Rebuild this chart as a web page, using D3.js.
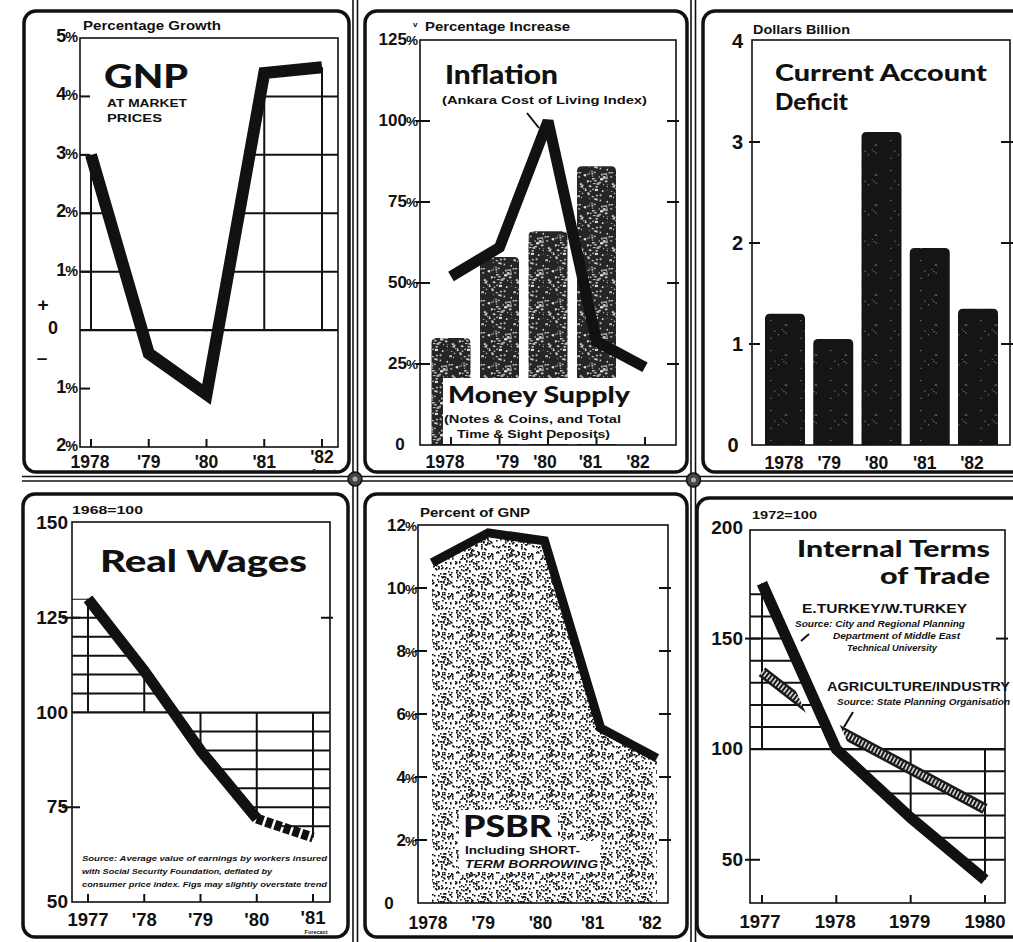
<!DOCTYPE html>
<html><head><meta charset="utf-8">
<script src="https://cdn.jsdelivr.net/npm/d3@7"></script>
<style>body{margin:0;background:#fff}svg{display:block}</style>
</head><body>
<svg id="c" width="1013" height="942"></svg>
<script>
// ---------------- DATA ----------------
const gnpYears = ["1978", "'79", "'80", "'81", "'82"];
const gnpValues = [3.0, -0.4, -1.1, 4.4, 4.5];
const gnpTicks = [5, 4, 3, 2, 1, 0, -1, -2];
const gnpTickLabels = ["5%", "4%", "3%", "2%", "1%", "0", "1%", "2%"];

const inflYears = ["1978", "'79", "'80", "'81", "'82"];
const inflationValues = [52, 61, 100, 32, 24];
const moneySupplyValues = [33, 58, 66, 86, null];
const inflTicks = [125, 100, 75, 50, 25, 0];
const inflTickLabels = ["125%", "100%", "75%", "50%", "25%", "0"];

const cadYears = ["1978", "'79", "'80", "'81", "'82"];
const cadValues = [1.3, 1.05, 3.1, 1.95, 1.35];
const cadTicks = [4, 3, 2, 1, 0];
const cadTickLabels = ["4", "3", "2", "1", "0"];

const wageYears = ["1977", "'78", "'79", "'80", "'81"];
const wageValues = [130, 111, 90, 72, 67];
const wageTicks = [150, 125, 100, 75, 50];
const wageTickLabels = ["150", "125", "100", "75", "50"];

const psbrYears = ["1978", "'79", "'80", "'81", "'82"];
const psbrValues = [10.8, 11.75, 11.5, 5.55, 4.6];
const psbrTicks = [12, 10, 8, 6, 4, 2, 0];
const psbrTickLabels = ["12%", "10%", "8%", "6%", "4%", "2%", "0"];

const totYears = ["1977", "1978", "1979", "1980"];
const eastWestValues = [175, 100, 69, 41];
const agriIndustryValues = [135, 109, 91, 73];
const totTicks = [200, 150, 100, 50];
const totTickLabels = ["200", "150", "100", "50"];

// ---------------- SETUP ----------------
const FT = "Lato, 'DejaVu Sans', sans-serif";
const FL = "'Liberation Sans Narrow', 'Liberation Sans', Arial, sans-serif";
const INK = "#111";
const svg = d3.select("#c");
svg.append("rect").attr("width", 1013).attr("height", 942).attr("fill", "#fff");
const defs = svg.append("defs");

// deterministic hash for print-like texture placement (style only)
const h = (i, k) => { const s = Math.sin(i * 12.9898 + k * 78.233) * 43758.5453; return s - Math.floor(s); };

// textures
{
  const p1 = defs.append("pattern").attr("id", "speckMid").attr("patternUnits", "userSpaceOnUse")
    .attr("width", 32).attr("height", 32);
  p1.append("rect").attr("width", 32).attr("height", 32).attr("fill", "#262626");
  d3.range(70).forEach(i => p1.append("rect")
    .attr("x", h(i, 1) * 32).attr("y", h(i, 2) * 32)
    .attr("width", 0.8 + h(i, 3) * 2.2).attr("height", 0.8 + h(i, 4) * 1.2)
    .attr("fill", "#f4f4f4").attr("opacity", 0.8));
  const p2 = defs.append("pattern").attr("id", "speckDark").attr("patternUnits", "userSpaceOnUse")
    .attr("width", 30).attr("height", 30);
  p2.append("rect").attr("width", 30).attr("height", 30).attr("fill", "#151515");
  d3.range(9).forEach(i => p2.append("rect")
    .attr("x", h(i, 5) * 30).attr("y", h(i, 6) * 30)
    .attr("width", 1.2).attr("height", 1).attr("fill", "#8a8a8a"));
  const p3 = defs.append("pattern").attr("id", "stipple").attr("patternUnits", "userSpaceOnUse")
    .attr("width", 40).attr("height", 40);
  d3.range(190).forEach(i => p3.append("rect")
    .attr("x", Math.round(h(i, 7) * 39)).attr("y", Math.round(h(i, 8) * 39))
    .attr("width", 1.6).attr("height", 1.6).attr("fill", "#111"));
}

function txt(x, y, s, size, o = {}) {
  const t = svg.append("text").attr("x", x).attr("y", y).text(s)
    .attr("font-family", o.family || FL).attr("font-size", size)
    .attr("font-weight", o.weight || "bold").attr("fill", INK)
    .attr("text-anchor", o.anchor || "start");
  if (o.italic) t.attr("font-style", "italic");
  if (o.len) t.attr("textLength", o.len).attr("lengthAdjust", "spacingAndGlyphs");
  return t;
}
function frame(x, y, w, h) {
  svg.append("rect").attr("x", x).attr("y", y).attr("width", w).attr("height", h)
    .attr("rx", 12).attr("fill", "none").attr("stroke", INK).attr("stroke-width", 3.5);
}
function plotBox(L, T, R, B) {
  svg.append("rect").attr("x", L).attr("y", T).attr("width", R - L).attr("height", B - T)
    .attr("fill", "none").attr("stroke", INK).attr("stroke-width", 1.6);
}
function yLabels(y, ticks, labels, x, size, dy, centerZeroX) {
  ticks.forEach((t, i) => {
    const lab = labels[i];
    if (lab === "0" && centerZeroX) {
      txt(centerZeroX, y(t) + dy, "0", size, { anchor: "middle" });
      return;
    }
    const el = svg.append("text").attr("x", x).attr("y", y(t) + dy).attr("text-anchor", "end")
      .attr("font-family", FL).attr("font-weight", "bold").attr("font-size", size).attr("fill", INK);
    if (lab.endsWith("%")) {
      el.append("tspan").text(lab.slice(0, -1));
      el.append("tspan").attr("font-size", size * 0.8).attr("dx", -1).text("%");
    } else el.text(lab);
  });
}
function leftTicks(y, ticks, L, a, b) {
  ticks.forEach(t => svg.append("line").attr("x1", L - a).attr("x2", L + b)
    .attr("y1", y(t)).attr("y2", y(t)).attr("stroke", INK).attr("stroke-width", 2));
}
function rightTicks(y, ticks, R) {
  ticks.forEach(t => svg.append("line").attr("x1", R - 9).attr("x2", R + 3)
    .attr("y1", y(t)).attr("y2", y(t)).attr("stroke", INK).attr("stroke-width", 2));
}
function bottomTicks(x, cats, B) {
  cats.forEach(c => svg.append("line").attr("x1", x(c)).attr("x2", x(c))
    .attr("y1", B - 8).attr("y2", B).attr("stroke", INK).attr("stroke-width", 2));
}
function xLabels(x, cats, yb, size, offs, dys) {
  cats.forEach((c, i) => txt(x(c) + (offs ? offs[i] : 0), yb + (dys ? dys[i] : 0), c, size, { anchor: "middle" }));
}
function areaClip(id, pts, L, R, base, y) {
  const ext = [[L, pts[0][1]], ...pts, [R, pts[pts.length - 1][1]]];
  defs.append("clipPath").attr("id", id).append("path")
    .attr("d", d3.area().x(d => d[0]).y0(y(base)).y1(d => y(d[1]))(ext));
}
function grid(g, hVals, xs, L, R, y, T, B) {
  hVals.forEach(v => g.append("line").attr("x1", L).attr("x2", R).attr("y1", y(v)).attr("y2", y(v))
    .attr("stroke", INK).attr("stroke-width", 2));
  xs.forEach(px => g.append("line").attr("x1", px).attr("x2", px).attr("y1", T).attr("y2", B)
    .attr("stroke", INK).attr("stroke-width", 2));
}
function roundTopBar(x0, w, yTop, yBot, r) {
  return `M${x0},${yBot}V${yTop + r}Q${x0},${yTop} ${x0 + r},${yTop}H${x0 + w - r}Q${x0 + w},${yTop} ${x0 + w},${yTop + r}V${yBot}Z`;
}
const lineGen = d3.line().x(d => d[0]).y(d => d[1]);

// ---------------- SEPARATORS & FRAMES ----------------
[[353, 357.5], [691, 695.5]].forEach(([a, b]) => {
  [a, b].forEach(xx => svg.append("line").attr("x1", xx).attr("x2", xx).attr("y1", 0).attr("y2", 942)
    .attr("stroke", INK).attr("stroke-width", 1.6));
});
[476.5, 481].forEach(yy => svg.append("line").attr("x1", 22).attr("x2", 1013).attr("y1", yy).attr("y2", yy)
  .attr("stroke", INK).attr("stroke-width", 1.6));
[[355, 479], [693.5, 480]].forEach(([cx, cy]) => {
  svg.append("circle").attr("cx", cx).attr("cy", cy).attr("r", 7).attr("fill", "#444").attr("stroke", INK).attr("stroke-width", 1.5);
  svg.append("circle").attr("cx", cx).attr("cy", cy).attr("r", 2.5).attr("fill", "#aaa");
});
frame(24, 11, 325, 461);
frame(365, 11, 322, 461);
frame(703, 11, 330, 461);
frame(23, 494, 325, 443);
frame(365, 494, 322, 443);
frame(697, 498, 330, 439);

// ---------------- PANEL 1: GNP ----------------
{
  const L = 80, R = 338, T = 38, B = 447;
  const x = d3.scalePoint().domain(gnpYears).range([91, 322]);
  const y = d3.scaleLinear().domain([-2, 5]).range([B, T]);
  const pts = gnpValues.map((v, i) => [x(gnpYears[i]), v]);
  areaClip("gnpClip", pts, L, R, 0, y);
  defs.append("clipPath").attr("id", "gnpPos").append("rect")
    .attr("x", L).attr("y", T).attr("width", R - L).attr("height", y(0) - T + 1);
  const g = svg.append("g").attr("clip-path", "url(#gnpPos)").append("g").attr("clip-path", "url(#gnpClip)");
  grid(g, [1, 2, 3, 4], gnpYears.map(x), L, R, y, T, B);
  svg.append("line").attr("x1", L).attr("x2", R).attr("y1", y(0)).attr("y2", y(0)).attr("stroke", INK).attr("stroke-width", 2.2);
  plotBox(L, T, R, B);
  leftTicks(y, [4, 3, 2, 1, -1], L, 0, 10);
  bottomTicks(x, gnpYears, B);
  svg.append("path").attr("d", lineGen(pts.map(p => [p[0], y(p[1])])))
    .attr("fill", "none").attr("stroke", INK).attr("stroke-width", 12)
    .attr("stroke-linejoin", "miter").attr("stroke-miterlimit", 2.5);
  yLabels(y, gnpTicks, gnpTickLabels, 78, 18, 4, 53);
  txt(43, 311, "+", 19, { anchor: "middle" });
  txt(42, 364, "\u2013", 19, { anchor: "middle" });
  xLabels(x, gnpYears, 468, 17.5, [-1, 0, 0, 0, 0], [0, 0, 0, 0, -5.5]);
  txt(324, 472.5, "Forecast", 5.5, { anchor: "middle" });
  txt(83, 30, "Percentage Growth", 12, { len: 138 });
  txt(104, 88, "GNP", 33, { family: FT, weight: 900, len: 84 });
  txt(107, 107, "AT MARKET", 10.5, { len: 80 });
  txt(107, 122, "PRICES", 10.5, { len: 55 });
}

// ---------------- PANEL 2: INFLATION / MONEY SUPPLY ----------------
{
  const L = 420, R = 676, T = 40, B = 445;
  const x = d3.scalePoint().domain(inflYears).range([451, 645]);
  const y = d3.scaleLinear().domain([0, 125]).range([B, T]);
  const bw = 39;
  moneySupplyValues.forEach((v, i) => {
    if (v == null) return;
    const cx = x(inflYears[i]);
    svg.append("path").attr("d", roundTopBar(cx - bw / 2, bw, y(v), y(0), 5)).attr("fill", "url(#speckMid)");
  });
  svg.append("rect").attr("x", 443).attr("y", 378).attr("width", R - 444).attr("height", B - 379).attr("fill", "#fff");
  plotBox(L, T, R, B);
  leftTicks(y, [100, 75, 50, 25], L, 4, 10);
  rightTicks(y, [100, 75, 50, 25], R);
  bottomTicks(x, inflYears, B);
  svg.append("path").attr("d", lineGen(inflationValues.map((v, i) => [x(inflYears[i]), y(v)])))
    .attr("fill", "none").attr("stroke", INK).attr("stroke-width", 11)
    .attr("stroke-linejoin", "miter").attr("stroke-miterlimit", 2.5);
  yLabels(y, inflTicks, inflTickLabels, 418, 17, 5, 400);
  xLabels(x, inflYears, 468, 17.5, [-6, 8, -3, -6, -7]);
  txt(413, 27, "v", 8);
  txt(425, 31, "Percentage Increase", 12, { len: 145 });
  txt(445, 84, "Inflation", 26, { family: FT, weight: 900, len: 113 });
  txt(442, 104, "(Ankara Cost of Living Index)", 11, { len: 205 });
  svg.append("line").attr("x1", 527).attr("y1", 113).attr("x2", 539).attr("y2", 128).attr("stroke", INK).attr("stroke-width", 2);
  txt(448, 403, "Money Supply", 23, { family: FT, weight: 900, len: 182 });
  txt(444, 423, "(Notes & Coins, and Total", 11.5, { len: 177 });
  txt(457, 438, "Time & Sight Deposits)", 11.5, { len: 153 });
}

// ---------------- PANEL 3: CURRENT ACCOUNT DEFICIT ----------------
{
  const L = 752, R = 1010, T = 40, B = 445;
  const x = d3.scalePoint().domain(cadYears).range([785, 978]);
  const y = d3.scaleLinear().domain([0, 4]).range([B, T + 1]);
  const bw = 40;
  cadValues.forEach((v, i) => {
    const cx = x(cadYears[i]);
    svg.append("path").attr("d", roundTopBar(cx - bw / 2, bw, y(v), y(0), 5)).attr("fill", "url(#speckDark)");
  });
  plotBox(L, T, R, B);
  leftTicks(y, [3, 2, 1], L, 3, 8);
  rightTicks(y, [3, 2, 1], R);
  yLabels(y, cadTicks, cadTickLabels, 743, 20, 7, 733);
  xLabels(x, cadYears, 469, 17.5, [-1, -4, -5, -5, -6]);
  txt(753, 34, "Dollars Billion", 12, { len: 97 });
  txt(775, 81, "Current Account", 23, { family: FT, weight: 900, len: 212 });
  txt(775, 110, "Deficit", 23, { family: FT, weight: 900, len: 73 });
}

// ---------------- PANEL 4: REAL WAGES ----------------
{
  const L = 72, R = 330, T = 522, B = 902;
  const x = d3.scalePoint().domain(wageYears).range([88, 313]);
  const y = d3.scaleLinear().domain([50, 150]).range([B, 523]);
  const pts = wageValues.map((v, i) => [x(wageYears[i]), v]);
  areaClip("wageClip", pts, L, R, 100, y);
  const g = svg.append("g").attr("clip-path", "url(#wageClip)");
  grid(g, d3.range(60, 150, 5), wageYears.map(x), L, R, y, T, B);
  svg.append("line").attr("x1", L).attr("x2", R).attr("y1", y(100)).attr("y2", y(100)).attr("stroke", INK).attr("stroke-width", 2.2);
  plotBox(L, T, R, B);
  leftTicks(y, [125, 75], L, 10, 8);
  rightTicks(y, [125], R);
  bottomTicks(x, wageYears, B);
  const sp = pts.map(p => [p[0], y(p[1])]);
  svg.append("path").attr("d", lineGen(sp.slice(0, 4))).attr("fill", "none").attr("stroke", INK)
    .attr("stroke-width", 11).attr("stroke-linejoin", "round");
  svg.append("path").attr("d", lineGen(sp.slice(3))).attr("fill", "none").attr("stroke", INK)
    .attr("stroke-width", 10).attr("stroke-dasharray", "7,2.5");
  yLabels(y, wageTicks, wageTickLabels, 68, 19, 6);
  xLabels(x, wageYears, 926, 18.5, [0, 0, 0, 0, 0], [0, 0, 0, 0, -2]);
  txt(316, 933.5, "Forecast", 5.5, { anchor: "middle" });
  txt(72, 514, "1968=100", 11, { len: 71 });
  txt(100, 572, "Real Wages", 31, { family: FT, weight: 900, len: 207 });
  txt(82, 861, "Source: Average value of earnings by workers insured", 8, { italic: true, len: 245 });
  txt(82, 874, "with Social Security Foundation, deflated by", 8, { italic: true, len: 190 });
  txt(82, 887, "consumer price index. Figs may slightly overstate trend", 8, { italic: true, len: 245 });
}

// ---------------- PANEL 5: PSBR ----------------
{
  const L = 418, R = 668, T = 525, B = 903;
  const x = d3.scalePoint().domain(psbrYears).range([432, 657]);
  const y = d3.scaleLinear().domain([0, 12]).range([B, T]);
  const pts = psbrValues.map((v, i) => [x(psbrYears[i]), y(v)]);
  svg.append("path").attr("d", d3.area().x(d => d[0]).y0(y(0)).y1(d => d[1])(pts)).attr("fill", "url(#stipple)");
  svg.append("rect").attr("x", 459).attr("y", 810).attr("width", 99).attr("height", 31).attr("fill", "#fff");
  svg.append("rect").attr("x", 459).attr("y", 841).attr("width", 141).attr("height", 31).attr("fill", "#fff");
  plotBox(L, T, R, B);
  leftTicks(y, [10, 8, 6, 4, 2], L, 3, 9);
  rightTicks(y, [10, 8, 6, 4, 2], R);
  svg.append("path").attr("d", lineGen(pts)).attr("fill", "none").attr("stroke", INK)
    .attr("stroke-width", 9).attr("stroke-linejoin", "miter");
  yLabels(y, psbrTicks, psbrTickLabels, 417, 17, 6, 389);
  xLabels(x, psbrYears, 929, 17.5, [-4, -5, -4, -8, -7]);
  txt(420, 517, "Percent of GNP", 12, { len: 110 });
  txt(463, 837, "PSBR", 31, { family: FT, weight: 900, len: 89 });
  txt(465, 854, "Including SHORT-", 11, { len: 115 });
  txt(465, 868, "TERM BORROWING", 11, { italic: true, len: 133 });
}

// ---------------- PANEL 6: INTERNAL TERMS OF TRADE ----------------
{
  const L = 750, R = 1005, T = 530, B = 903;
  const x = d3.scalePoint().domain(totYears).range([762, 985]);
  const y = d3.scaleLinear().domain([30, 200]).range([904, 528]);
  const ew = eastWestValues.map((v, i) => [x(totYears[i]), v]);
  areaClip("totClip", ew, L, R, 100, y);
  const g = svg.append("g").attr("clip-path", "url(#totClip)");
  grid(g, d3.range(40, 200, 10), totYears.map(x), L, R, y, T, B);
  svg.append("line").attr("x1", L).attr("x2", R).attr("y1", y(100)).attr("y2", y(100)).attr("stroke", INK).attr("stroke-width", 2.2);
  plotBox(L, T, R, B);
  leftTicks(y, [150, 50], L, 5, 10);
  rightTicks(y, [150], R);
  bottomTicks(x, totYears, B);
  const ewPath = lineGen(ew.map(p => [p[0], y(p[1])]));
  const mask = defs.append("mask").attr("id", "agMask").attr("maskUnits", "userSpaceOnUse")
    .attr("x", 0).attr("y", 0).attr("width", 1013).attr("height", 942);
  mask.append("rect").attr("width", 1013).attr("height", 942).attr("fill", "#fff");
  mask.append("path").attr("d", ewPath).attr("fill", "none").attr("stroke", "#000").attr("stroke-width", 26);
  const ag = svg.append("g").attr("mask", "url(#agMask)");
  const agPath = lineGen(agriIndustryValues.map((v, i) => [x(totYears[i]), y(v)]));
  ag.append("path").attr("d", agPath).attr("fill", "none").attr("stroke", "#1a1a1a").attr("stroke-width", 11);
  ag.append("path").attr("d", agPath).attr("fill", "none").attr("stroke", "#d8d8d8").attr("stroke-width", 6)
    .attr("stroke-dasharray", "1.6,2");
  svg.append("path").attr("d", ewPath).attr("fill", "none").attr("stroke", INK)
    .attr("stroke-width", 11).attr("stroke-linejoin", "round");
  yLabels(y, totTicks, totTickLabels, 743, 19, 6);
  xLabels(x, totYears, 928, 18.5, [-2, -1, -1, 0]);
  txt(752, 519, "1972=100", 11, { len: 65 });
  txt(990, 557, "Internal Terms", 22, { family: FT, weight: 900, anchor: "end", len: 193 });
  txt(990, 584, "of Trade", 22, { family: FT, weight: 900, anchor: "end", len: 110 });
  txt(802, 613, "E.TURKEY/W.TURKEY", 12, { len: 165 });
  txt(795, 627, "Source: City and Regional Planning", 8.5, { italic: true, len: 170 });
  txt(833, 639, "Department of Middle East", 8.5, { italic: true, len: 127 });
  txt(847, 651, "Technical University", 8.5, { italic: true, len: 90 });
  svg.append("line").attr("x1", 809).attr("y1", 634).attr("x2", 801).attr("y2", 641).attr("stroke", INK).attr("stroke-width", 2);
  txt(827, 691, "AGRICULTURE/INDUSTRY", 12, { len: 183 });
  txt(837, 705, "Source: State Planning Organisation", 8.5, { italic: true, len: 173 });
  svg.append("line").attr("x1", 853).attr("y1", 712).attr("x2", 844).attr("y2", 727).attr("stroke", INK).attr("stroke-width", 2);
}
</script>
</body></html>
